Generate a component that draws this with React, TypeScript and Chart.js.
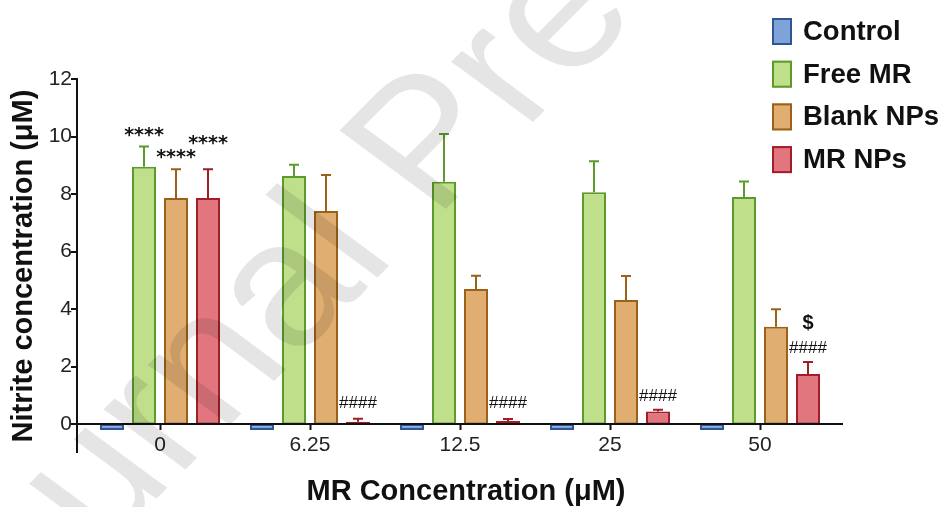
import React, { useEffect, useRef } from 'react';
import { Chart, registerables } from 'chart.js';

Chart.register(...registerables);

// ---- data ----
const categories = ['0', '6.25', '12.5', '25', '50'];
const seriesNames = ['Control', 'Free MR', 'Blank NPs', 'MR NPs'];
const controlMean = [-0.2, -0.2, -0.2, -0.2, -0.2];
const controlErr = [0, 0, 0, 0, 0];
const freeMRMean = [8.95, 8.63, 8.43, 8.06, 7.9];
const freeMRErr = [0.7, 0.39, 1.66, 1.08, 0.54];
const blankNPsMean = [7.86, 7.41, 4.7, 4.32, 3.39];
const blankNPsErr = [1.0, 1.25, 0.46, 0.83, 0.61];
const mrNPsMean = [7.86, 0.09, 0.115, 0.44, 1.75];
const mrNPsErr = [1.0, 0.1, 0.07, 0.06, 0.41];
const yTickValues = [0, 2, 4, 6, 8, 10, 12];
const yTitle = 'Nitrite concentration (\u03BCM)';
const xTitle = 'MR Concentration (\u03BCM)';
const watermarkText = 'Journal Pre-proof';

// significance marks: category index, series index, text
const marks = [
  { cat: 0, series: 1, text: '****', kind: 'star' },
  { cat: 0, series: 2, text: '****', kind: 'star' },
  { cat: 0, series: 3, text: '****', kind: 'star' },
  { cat: 1, series: 3, text: '####', kind: 'hash' },
  { cat: 2, series: 3, text: '####', kind: 'hash' },
  { cat: 3, series: 3, text: '####', kind: 'hash' },
  { cat: 4, series: 3, text: '####', kind: 'hash' },
  { cat: 4, series: 3, text: '$', kind: 'dollar' },
];
// pixel lift of each mark above its error bar (style, not data)
const markLift = [11, 11, 25, 15, 16, 14, 14, 39];

const fills = ['#7da3d9', '#c0df8b', '#dfae70', '#e1767e'];
const borders = ['#2f5597', '#5b9a2b', '#9b611a', '#a11d2a'];
const means = [controlMean, freeMRMean, blankNPsMean, mrNPsMean];
const errs = [controlErr, freeMRErr, blankNPsErr, mrNPsErr];

const FONT = "'Liberation Sans', Arial, sans-serif";

const overlayPlugin = {
  id: 'overlay',
  afterDatasetsDraw(chart: any) {
    const ctx = chart.ctx;
    const yS = chart.scales.y;
    ctx.save();
    // error bars
    means.forEach((m, si) => {
      const meta = chart.getDatasetMeta(si);
      meta.data.forEach((bar: any, ci: number) => {
        const e = errs[si][ci];
        if (!e) return;
        const y0 = yS.getPixelForValue(m[ci]);
        const y1 = yS.getPixelForValue(m[ci] + e);
        ctx.strokeStyle = borders[si];
        ctx.lineWidth = 2;
        ctx.beginPath();
        ctx.moveTo(bar.x, y0);
        ctx.lineTo(bar.x, y1);
        ctx.moveTo(bar.x - 5, y1);
        ctx.lineTo(bar.x + 5, y1);
        ctx.stroke();
      });
    });
    // axis lines
    const zeroY = Math.round(yS.getPixelForValue(0));
    const axX = chart.chartArea.left - 8;
    ctx.strokeStyle = '#111';
    ctx.lineWidth = 2;
    ctx.beginPath();
    ctx.moveTo(axX, yS.getPixelForValue(12) - 1);
    ctx.lineTo(axX, yS.getPixelForValue(-1));
    ctx.moveTo(axX - 1, zeroY);
    ctx.lineTo(chart.chartArea.right + 8, zeroY);
    yTickValues.forEach((v) => {
      const py = Math.round(yS.getPixelForValue(v));
      ctx.moveTo(axX - 6, py);
      ctx.lineTo(axX, py);
    });
    ctx.stroke();

    // marks
    ctx.fillStyle = '#111';
    ctx.textAlign = 'center';
    ctx.textBaseline = 'middle';
    marks.forEach((mk, i) => {
      const bar: any = chart.getDatasetMeta(mk.series).data[mk.cat];
      const top = yS.getPixelForValue(means[mk.series][mk.cat] + errs[mk.series][mk.cat]);
      if (mk.kind === 'star') ctx.font = "bold 19px 'DejaVu Sans', sans-serif";
      else if (mk.kind === 'hash') ctx.font = `17px ${FONT}`;
      else ctx.font = `bold 20px ${FONT}`;
      ctx.fillText(mk.text, bar.x, top - markLift[i]);
    });

    // x title
    ctx.font = `bold 29px ${FONT}`;
    ctx.fillStyle = '#111';
    ctx.fillText(xTitle, 466, 492);

    // legend
    ctx.textAlign = 'left';
    ctx.font = `bold 27.5px ${FONT}`;
    seriesNames.forEach((name, i) => {
      const cy = 31.5 + i * 42.7;
      ctx.fillStyle = fills[i];
      ctx.fillRect(772, cy - 13.5, 20, 27);
      ctx.strokeStyle = borders[i];
      ctx.lineWidth = 2;
      ctx.strokeRect(773, cy - 12.5, 18, 25);
      ctx.fillStyle = '#111';
      ctx.fillText(name, 803, cy + 1);
    });

    // watermark (rotated, slightly squashed vertically)
    ctx.font = `204px ${FONT}`;
    const pre = ctx.measureText('Journal ').width;
    ctx.translate(435, 220);
    ctx.scale(1, 0.86);
    ctx.rotate((-49.3 * Math.PI) / 180);
    ctx.fillStyle = 'rgba(0,0,0,0.1)';
    ctx.textBaseline = 'alphabetic';
    ctx.fillText(watermarkText, -pre, 0);
    ctx.restore();
  },
};

export default function App() {
  const ref = useRef<HTMLCanvasElement>(null);
  useEffect(() => {
    if (!ref.current) return;
    const chart = new Chart(ref.current, {
      type: 'bar',
      data: {
        labels: categories,
        datasets: seriesNames.map((name, i) => ({
          label: name,
          data: means[i],
          backgroundColor: fills[i],
          borderColor: borders[i],
          borderWidth: 2,
          borderSkipped: false,
          categoryPercentage: 0.8533,
          barPercentage: 0.75,
        })),
      },
      options: {
        responsive: false,
        animation: false,
        layout: { padding: { left: 0, right: 108, top: 79, bottom: 54 } },
        plugins: { legend: { display: false }, tooltip: { enabled: false }, title: { display: false } },
        scales: {
          x: {
            type: 'category',
            position: { y: 0 } as any,
            offset: true,
            grid: {
              display: true,
              drawOnChartArea: false,
              drawTicks: true,
              tickLength: 6,
              tickWidth: 2,
              tickColor: '#111',
              offset: false,
            },
            border: { display: false },
            ticks: { font: { family: FONT, size: 21 }, color: '#222', padding: 2, maxRotation: 0 },
          },
          y: {
            type: 'linear',
            min: -1,
            max: 12,
            afterBuildTicks: (s: any) => {
              s.ticks = yTickValues.map((v) => ({ value: v }));
            },
            afterFit: (s: any) => {
              s.width = 85;
            },
            grid: { display: false, drawTicks: false },
            border: { display: false },
            ticks: { padding: 13, font: { family: FONT, size: 21 }, color: '#222' },
            title: {
              display: true,
              text: yTitle,
              font: { family: FONT, size: 29, weight: 'bold' },
              color: '#111',
              padding: { top: 7, bottom: 0 },
            },
          },
        },
      },
      plugins: [overlayPlugin],
    });
    return () => chart.destroy();
  }, []);
  return (
    <div style={{ position: 'fixed', left: 0, top: 0, width: 943, height: 507, background: '#fff' }}>
      <canvas ref={ref} width={943} height={507} style={{ display: 'block' }} />
    </div>
  );
}
